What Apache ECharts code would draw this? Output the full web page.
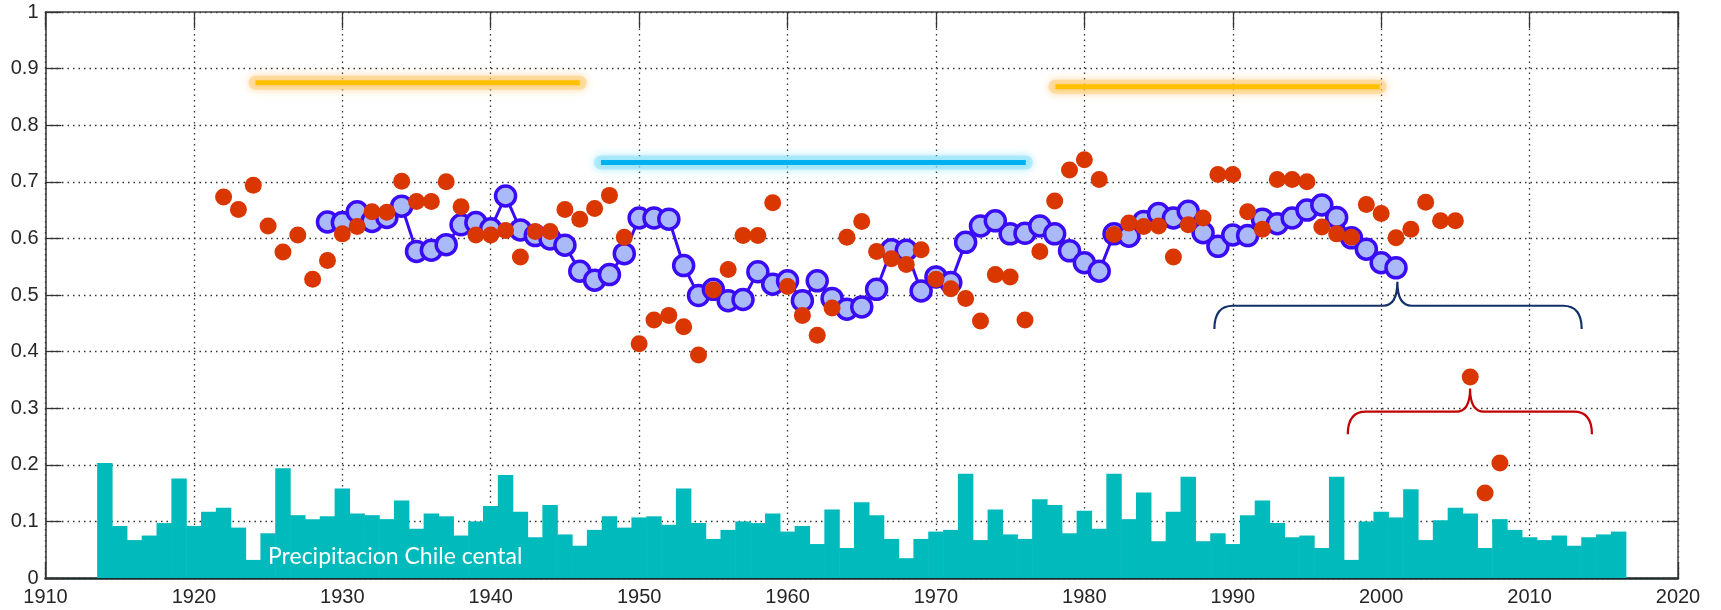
<!DOCTYPE html>
<html><head><meta charset="utf-8">
<script src="https://cdn.jsdelivr.net/npm/echarts@6/dist/echarts.min.js"></script>
<style>html,body{margin:0;padding:0;background:#fff}#c{width:1721px;height:610px}</style>
</head><body><div id="c"></div>
<script>
// ---------------- DATA ----------------
const xTickYears = [1910, 1920, 1930, 1940, 1950, 1960, 1970, 1980, 1990, 2000, 2010, 2020];
const barFirstYear = 1914;
const barValues = [
  0.203, 0.092, 0.067, 0.075, 0.097, 0.176, 0.092, 0.117, 0.124, 0.089, // 1914-1923
  0.032, 0.079, 0.194, 0.111, 0.104, 0.109, 0.158, 0.114, 0.111, 0.104, // 1924-1933
  0.137, 0.087, 0.114, 0.109, 0.075, 0.100, 0.127, 0.182, 0.117, 0.072, // 1934-1943
  0.129, 0.077, 0.057, 0.085, 0.109, 0.089, 0.107, 0.109, 0.094, 0.158, // 1944-1953
  0.097, 0.069, 0.085, 0.100, 0.097, 0.114, 0.082, 0.092, 0.060, 0.121, // 1954-1963
  0.053, 0.134, 0.111, 0.069, 0.035, 0.069, 0.082, 0.085, 0.184, 0.067, // 1964-1973
  0.121, 0.077, 0.069, 0.139, 0.129, 0.079, 0.119, 0.087, 0.184, 0.104, // 1974-1983
  0.151, 0.065, 0.117, 0.179, 0.065, 0.079, 0.060, 0.111, 0.137, 0.097, // 1984-1993
  0.072, 0.075, 0.053, 0.179, 0.032, 0.100, 0.117, 0.107, 0.157, 0.067, // 1994-2003
  0.102, 0.124, 0.114, 0.053, 0.104, 0.085, 0.072, 0.067, 0.075, 0.057, // 2004-2013
  0.072, 0.077, 0.082                                                   // 2014-2016
];
const dotFirstYear = 1922;
const dotValues = [
  0.673, 0.651, 0.694, 0.622, 0.576, 0.606, 0.528, 0.561, 0.608, 0.621, // 1922-1931
  0.647, 0.646, 0.701, 0.665, 0.665, 0.700, 0.656, 0.606, 0.606, 0.614, // 1932-1941
  0.567, 0.612, 0.612, 0.651, 0.634, 0.653, 0.676, 0.602, 0.414, 0.456, // 1942-1951
  0.464, 0.444, 0.394, 0.509, 0.545, 0.605, 0.605, 0.663, 0.515, 0.464, // 1952-1961
  0.429, 0.477, 0.602, 0.630, 0.577, 0.564, 0.554, 0.580, 0.528, 0.511, // 1962-1971
  0.494, 0.454, 0.536, 0.532, 0.456, 0.577, 0.666, 0.721, 0.739, 0.704, // 1972-1981
  0.607, 0.627, 0.621, 0.622, 0.567, 0.624, 0.636, 0.713, 0.713, 0.647, // 1982-1991
  0.616, 0.704, 0.704, 0.700, 0.620, 0.608, 0.602, 0.660, 0.644, 0.601, // 1992-2001
  0.616, 0.664, 0.631, 0.631, 0.355, 0.150, 0.203                       // 2002-2008
];
const avgFirstYear = 1929;
const avgValues = [
  0.629, 0.628, 0.647, 0.630, 0.637, 0.657, 0.577, 0.579, 0.589, 0.624, // 1929-1938
  0.628, 0.617, 0.675, 0.615, 0.605, 0.599, 0.588, 0.542, 0.526, 0.536, // 1939-1948
  0.573, 0.636, 0.636, 0.634, 0.552, 0.499, 0.510, 0.490, 0.492, 0.541, // 1949-1958
  0.519, 0.525, 0.490, 0.525, 0.494, 0.475, 0.479, 0.510, 0.580, 0.579, // 1959-1968
  0.507, 0.532, 0.522, 0.593, 0.622, 0.631, 0.608, 0.609, 0.622, 0.608, // 1969-1978
  0.578, 0.557, 0.542, 0.608, 0.604, 0.630, 0.644, 0.636, 0.648, 0.610, // 1979-1988
  0.586, 0.606, 0.605, 0.634, 0.626, 0.636, 0.650, 0.659, 0.637, 0.601, // 1989-1998
  0.581, 0.557, 0.548                                                   // 1999-2001
];
// periods: [startYear, endYear, level]
const warmPeriods = [[1924.15, 1946.0, 0.875], [1978.05, 1999.9, 0.868]];
const coolPeriods = [[1947.43, 1976.05, 0.734]];
// braces: [fromYear, toYear, tipYear, baseLevel, barLevel, tipLevel]
const braceNavy = [[1988.76, 2013.51, 2001.09, 0.440, 0.481, 0.5235]];
const braceRed = [[1997.75, 2014.2, 2005.99, 0.254, 0.294, 0.335]];
const seriesLabel = 'Precipitacion Chile cental';

// ---------------- CHART ----------------
const G = { left: 45.5, right: 43, top: 12, bottom: 32 };
const xMin = 1910, xMax = 2020;

const barData = barValues.map((v, i) => [barFirstYear + i, v]);
const dotData = dotValues.map((v, i) => [dotFirstYear + i, v]);
const avgData = avgValues.map((v, i) => [avgFirstYear + i, v]);

// one-year-wide columns, drawn through the axis scales
const barSeries = {
  type: 'custom', coordinateSystem: 'cartesian2d', z: 2, silent: true,
  encode: { x: 0, y: 1 },
  data: barData,
  renderItem: function (params, api) {
    const yr = api.value(0), v = api.value(1);
    const tl = api.coord([yr - 0.5, v]);
    const br = api.coord([yr + 0.5, 0]);
    return { type: 'rect',
      shape: { x: tl[0] - 0.3, y: tl[1], width: br[0] - tl[0] + 0.6, height: br[1] - tl[1] },
      style: { fill: '#00BABC' } };
  }
};

function glowSeries(data, core, glow, shadow) {
  return {
    type: 'custom', coordinateSystem: 'cartesian2d', z: 3, silent: true,
    encode: { x: [0, 1], y: 2 },
    data: data,
    renderItem: function (params, api) {
      const p0 = api.coord([api.value(0), api.value(2)]);
      const p1 = api.coord([api.value(1), api.value(2)]);
      return {
        type: 'group',
        children: [
          { type: 'line', shape: { x1: p0[0], y1: p0[1], x2: p1[0], y2: p1[1] },
            style: { stroke: glow, lineWidth: 14, lineCap: 'round', shadowBlur: 9, shadowColor: shadow } },
          { type: 'line', shape: { x1: p0[0], y1: p0[1], x2: p1[0], y2: p1[1] },
            style: { stroke: core, lineWidth: 5, lineCap: 'butt' } }
        ]
      };
    }
  };
}

function braceSeries(data, color) {
  return {
    type: 'custom', coordinateSystem: 'cartesian2d', z: 6, silent: true,
    encode: { x: [0, 1, 2], y: [3, 4, 5] },
    data: data,
    renderItem: function (params, api) {
      const a = api.coord([api.value(0), api.value(3)]);
      const b = api.coord([api.value(1), api.value(3)]);
      const m = api.coord([api.value(2), api.value(4)]);
      const t = api.coord([api.value(2), api.value(5)]);
      const xl = a[0], xr = b[0], yb = a[1], ym = m[1], xm = m[0], yt = t[1];
      const r = (yb - ym) * 0.8;
      const r2 = (ym - yt) * 0.6;
      const d = 'M' + xl + ',' + yb +
        ' Q' + xl + ',' + ym + ' ' + (xl + r) + ',' + ym +
        ' L' + (xm - r2) + ',' + ym +
        ' Q' + xm + ',' + ym + ' ' + xm + ',' + yt +
        ' Q' + xm + ',' + ym + ' ' + (xm + r2) + ',' + ym +
        ' L' + (xr - r) + ',' + ym +
        ' Q' + xr + ',' + ym + ' ' + xr + ',' + yb;
      return { type: 'path', shape: { pathData: d },
        style: { stroke: color, lineWidth: 2.2, fill: null } };
    }
  };
}

const tickStyle = { color: '#333', width: 1.3 };
const gridDots = { type: [1.5, 4], color: '#333', width: 1.3 };
const labelFont = { fontSize: 20, color: '#262626', fontFamily: 'Liberation Sans, Arial, sans-serif' };

const option = {
  animation: false,
  backgroundColor: '#fff',
  grid: { left: G.left, right: G.right, top: G.top, bottom: G.bottom, containLabel: false },
  xAxis: [
    { type: 'value', min: xMin, max: xMax, interval: 10, position: 'bottom',
      axisLine: { show: true, onZero: false, lineStyle: { color: '#1e2b2b', width: 2.5 } },
      axisTick: { show: true, inside: true, length: 16, lineStyle: tickStyle },
      axisLabel: Object.assign({ margin: 9, formatter: v => String(v) }, labelFont),
      splitLine: { show: true, lineStyle: gridDots } },
    { type: 'value', min: xMin, max: xMax, interval: 10, position: 'top',
      axisLine: { show: true, onZero: false, lineStyle: { color: '#444', width: 1.5 } },
      axisTick: { show: true, inside: true, length: 16, lineStyle: tickStyle },
      axisLabel: { show: false }, splitLine: { show: false } }
  ],
  yAxis: [
    { type: 'value', min: 0, max: 1, interval: 0.1, position: 'left',
      axisLine: { show: true, onZero: false, lineStyle: { color: '#333', width: 1.5 } },
      axisTick: { show: true, inside: true, length: 16, lineStyle: tickStyle },
      axisLabel: Object.assign({ margin: 7 }, labelFont),
      splitLine: { show: true, lineStyle: gridDots } },
    { type: 'value', min: 0, max: 1, interval: 0.1, position: 'right',
      axisLine: { show: true, onZero: false, lineStyle: { color: '#444', width: 1.5 } },
      axisTick: { show: true, inside: true, length: 16, lineStyle: tickStyle },
      axisLabel: { show: false }, splitLine: { show: false } }
  ],
  series: [
    barSeries,
    glowSeries(warmPeriods, '#FFC000', 'rgba(255,205,120,0.55)', 'rgba(255,180,70,0.9)'),
    glowSeries(coolPeriods, '#00B0F0', 'rgba(140,225,250,0.55)', 'rgba(90,210,245,0.9)'),
    { type: 'line', data: avgData, z: 4, symbol: 'circle', symbolSize: 20,
      lineStyle: { color: '#3A0CF5', width: 3 },
      itemStyle: { color: '#AABAF8', borderColor: '#3A0CF5', borderWidth: 3.5, opacity: 1 } },
    { type: 'scatter', data: dotData, z: 5, symbol: 'circle', symbolSize: 17,
      itemStyle: { color: '#D93600', opacity: 1 } },
    braceSeries(braceNavy, '#13306A'),
    braceSeries(braceRed, '#C00000')
  ],
  graphic: [
    { type: 'text', left: 268, top: 545, z: 100,
      style: { text: seriesLabel, fill: '#ffffff', font: '23px Lato, "Open Sans", sans-serif' } }
  ]
};

const chart = echarts.init(document.getElementById('c'), null, { renderer: 'canvas' });
chart.setOption(option);
</script>
</body></html>
